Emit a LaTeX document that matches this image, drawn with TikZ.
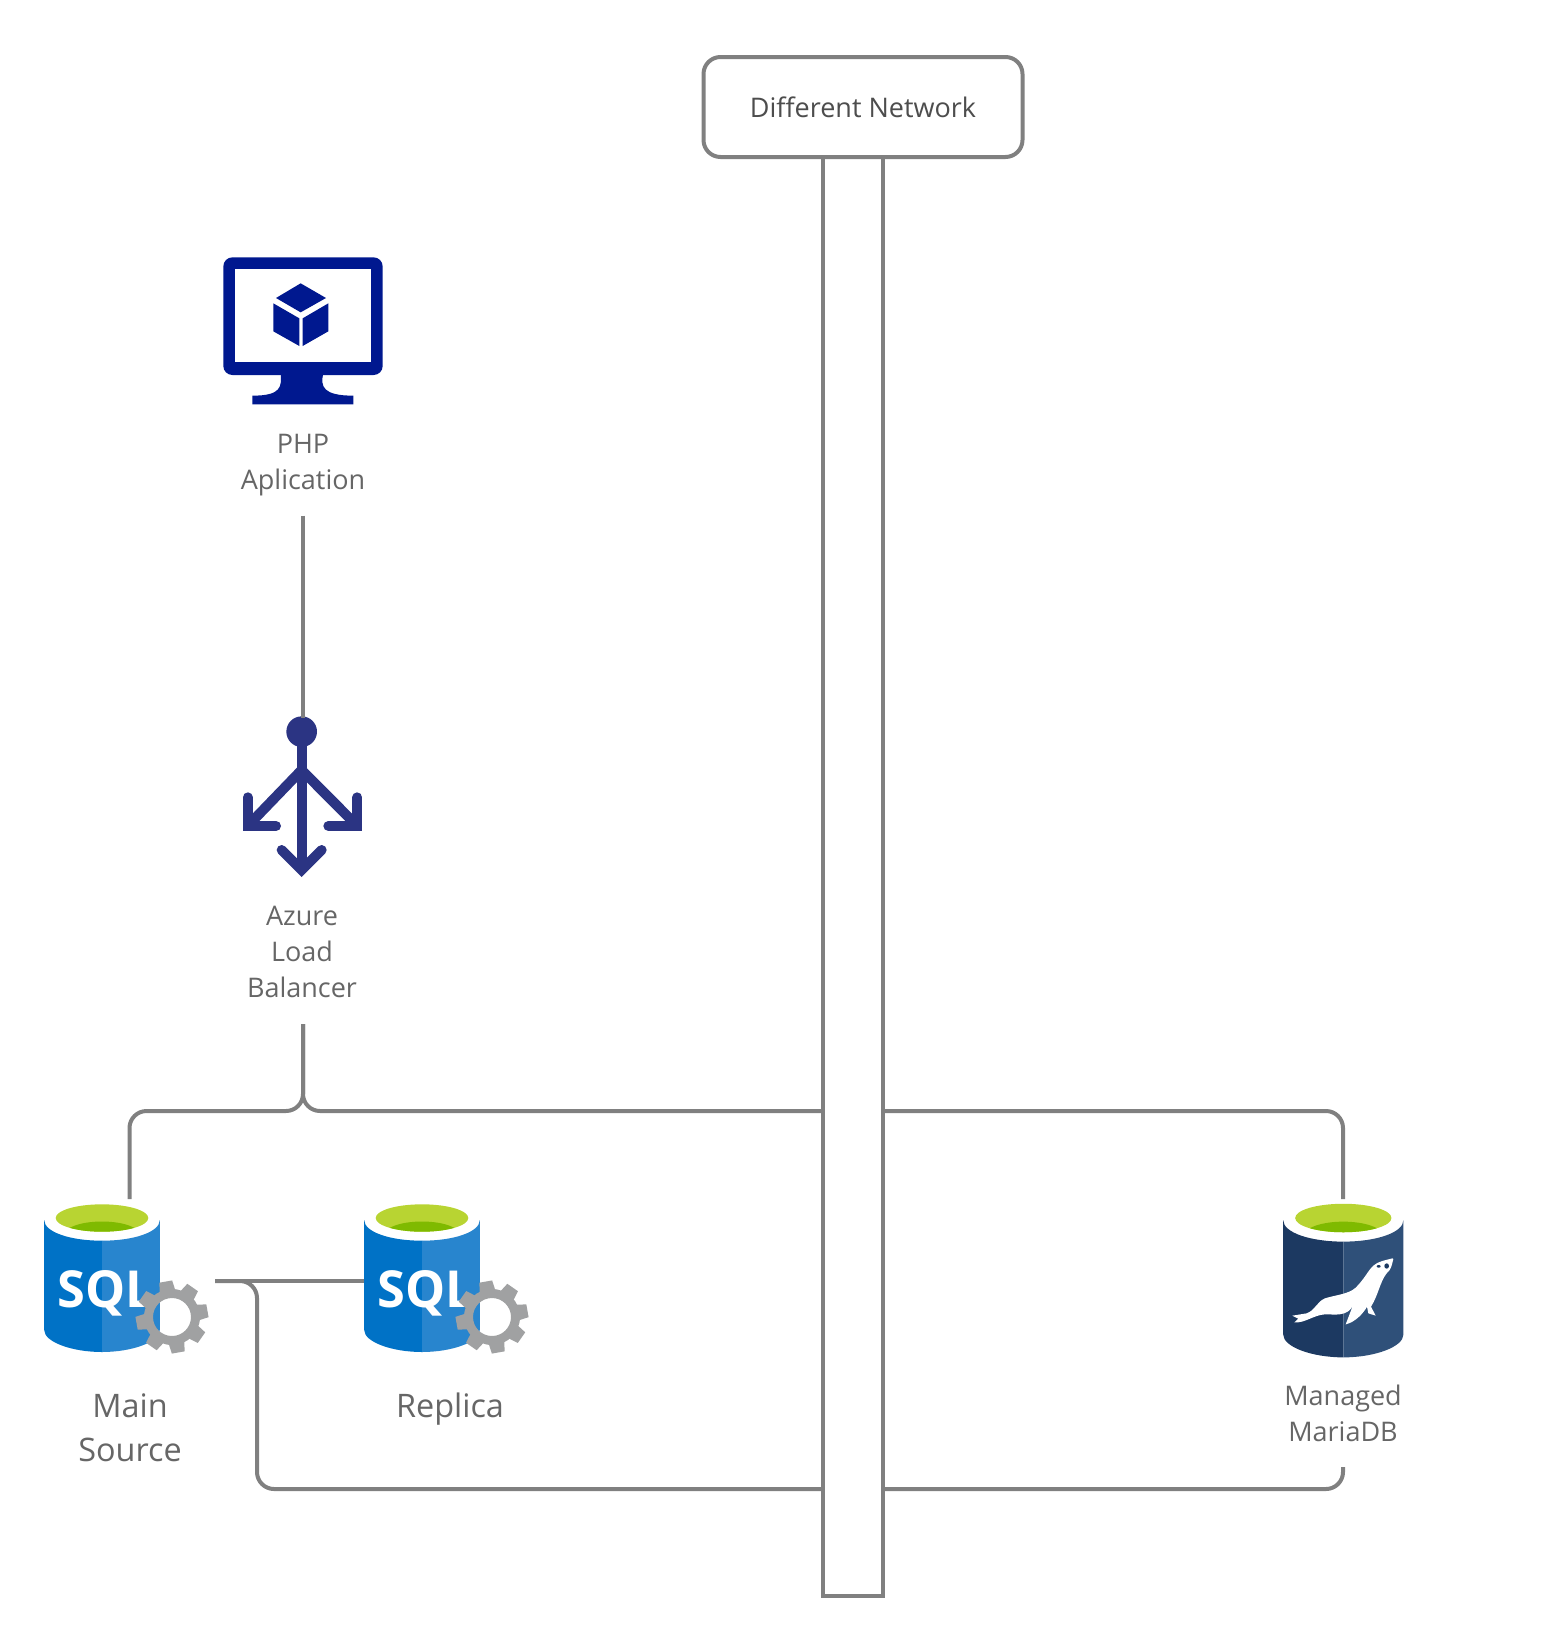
\documentclass[tikz,border=0pt]{standalone}
\usepackage{fontspec}
\setmainfont{Open Sans}
\definecolor{linegray}{HTML}{808080}
\definecolor{textgray}{HTML}{666666}
\definecolor{boxtext}{HTML}{4D4D4D}
\definecolor{vmblue}{HTML}{00188F}
\definecolor{lbblue}{HTML}{2B3483}
\definecolor{sqldark}{HTML}{0072C6}
\definecolor{sqllight}{HTML}{2885CE}
\definecolor{mariadark}{HTML}{1C3961}
\definecolor{marialight}{HTML}{2F5079}
\definecolor{greenlight}{HTML}{B8D432}
\definecolor{greendark}{HTML}{7FBA00}
\definecolor{gearcol}{HTML}{A0A1A2}
\tikzset{
	conn/.style={draw=linegray,line width=4pt,rounded corners=17pt},
	lbl/.style={align=center,text=textgray,font=\fontsize{27}{36}\selectfont,inner sep=0pt},
	biglbl/.style={align=center,text=textgray,font=\fontsize{32.4}{44}\selectfont,inner sep=0pt},
	sqltext/.style={text=white,font=\bfseries\fontsize{51}{51}\selectfont,xscale=.99,anchor=base,inner sep=0pt},
	pics/dbcyl/.style 2 args={code={
		\fill[#1] (-57.8,2)--(-57.8,112) .. controls (-57.8,124) and (-30,134) .. (0,134)--(0,22.7) .. controls (-32,22.7) and (-57.8,14) .. (-57.8,2)--cycle;
		\fill[#2] (57.8,2)--(57.8,112) .. controls (57.8,124) and (30,134) .. (0,134)--(0,22.7) .. controls (32,22.7) and (57.8,14) .. (57.8,2)--cycle;
		\fill[greenlight] (0,0) ellipse (46.3 and 13.7);
		\begin{scope}
			\clip (0,0) ellipse (46.3 and 13.7);
			\fill[greendark] (0,17) ellipse (38 and 13.5);
		\end{scope}
	}},
	pics/gearicon/.style={code={
		\fill[gearcol,even odd rule] (0,0) circle (28) (0,0) circle (19);
		\foreach \a in {0,45,...,315}
			\fill[gearcol,rotate=\a+10] (-8,-25)--(-6.5,-36)--(6.5,-36)--(8,-25)--cycle;
	}}
}
\begin{document}
\begin{tikzpicture}[x=1pt,y=-1pt]
	\useasboundingbox (0,0) rectangle (1567,1638);
	% column and network box
	\node[draw=linegray,line width=4pt,minimum width=60pt,minimum height=1439pt,inner sep=0pt,anchor=north] (column) at (853,155) {};
	\node[draw=linegray,fill=white,line width=4pt,rounded corners=17pt,minimum width=319pt,minimum height=100pt,inner sep=0pt,text=boxtext,font=\fontsize{27}{36}\selectfont] (network) at (863,107) {Different Network};
	% php vm
	\begin{scope}[shift={(180,230)},scale=1/3]
		\fill[vmblue,rounded corners=9pt] (130,82)--(608,82)--(608,435)--(130,435)--cycle;
		\fill[white] (165,118) rectangle (572,397);
		\fill[vmblue] (302,430)..controls (305,470) and (305,497) .. (217,497)--(217,523)--(520,523)--(520,497)..controls (430,497) and (420,470) .. (430,430)--cycle;
		\fill[vmblue] (362,160)--(438,204)--(362,247)--(288,204)--cycle;
		\fill[vmblue] (280,220)--(358,265)--(358,348)--(280,304)--cycle;
		\fill[vmblue] (445,220)--(368,265)--(368,348)--(445,304)--cycle;
	\end{scope}
	\node[lbl] (phptext) at (303,465) {PHP\\Aplication};
	% load balancer
	\begin{scope}[shift={(200,690)},scale=1/3,draw=lbblue,line width=10pt]
		\fill[lbblue] (305,125) circle (46);
		\draw (305,125)--(305,530);
		\draw (305,240)--(143,408);
		\draw (305,240)--(472,408);
		\draw[line cap=round] (143,322)--(143,408)--(228,408);
		\draw[line cap=round] (472,322)--(472,408)--(385,408);
		\draw[line cap=round] (245,480)--(305,540)--(365,480);
	\end{scope}
	\node[lbl] (lbtext) at (302,952) {Azure\\Load\\Balancer};
	% databases
	\pic at (102,1218) {dbcyl={sqldark}{sqllight}};
	\node[sqltext] (sqlmain) at (105.5,1307) {SQL};
	\pic at (172,1317) {gearicon};
	\pic at (422,1218) {dbcyl={sqldark}{sqllight}};
	\node[sqltext] (sqlreplica) at (425.5,1307) {SQL};
	\pic at (492,1317) {gearicon};
	\pic[scale=1.04] at (1343.3,1218) {dbcyl={mariadark}{marialight}};
	% seal
	\begin{scope}[shift={(1285,1245)},scale=1/3]
		\fill[white] (322,40) .. controls (305,45) and (280,48) .. (265,62) .. controls (250,75) and (240,100) .. (212,128) .. controls (190,148) and (150,150) .. (120,160) .. controls (95,170) and (92,195) .. (65,205) -- (22,212) -- (40,221) -- (28,232) .. controls (60,235) and (85,210) .. (120,208) .. controls (145,207) and (190,218) .. (205,178) -- (182,238) .. controls (210,232) and (235,205) .. (246,185) -- (250,205) -- (272,212) -- (258,185) .. controls (280,150) and (285,110) .. (305,85) .. controls (320,72) and (320,60) .. (325,42) -- cycle;
		\fill[mariadark] (305,63) ellipse (7 and 8);
		\fill[mariadark] (281,64) ellipse (6 and 4);
	\end{scope}
	\coordinate (phpout) at (303,515.5);
	\coordinate (lbtop) at (303,718);
	\coordinate (lbout) at (303,1024);
	\coordinate (mainin) at (129.5,1199);
	\coordinate (mariatop) at (1343,1199);
	\coordinate (mainout) at (215,1281);
	\coordinate (replicain) at (364,1281);
	\coordinate (mariabot) at (1343,1467);
	\node[biglbl] (maintext) at (130,1428) {Main\\Source};
	\node[biglbl,anchor=base] (replicatext) at (450,1417) {Replica};
	\node[lbl] (mariatext) at (1343,1413) {Managed\\MariaDB};
	% connectors
	\draw[conn] (phpout) -- (lbtop);
	\draw[conn] (lbout) -- (303,1111) -- (129.5,1111) -- (mainin);
	\draw[conn] (lbout) -- (303,1111) -- (column.west |- 0,1111);
	\draw[conn] (column.east |- 0,1111) -- (1343,1111) -- (mariatop);
	\draw[conn] (mainout) -- (replicain);
	\draw[conn] (mainout) -- (257,1281) -- (257,1489) -- (column.west |- 0,1489);
	\draw[conn] (column.east |- 0,1489) -- (1343,1489) -- (mariabot);
\end{tikzpicture}
\end{document}
